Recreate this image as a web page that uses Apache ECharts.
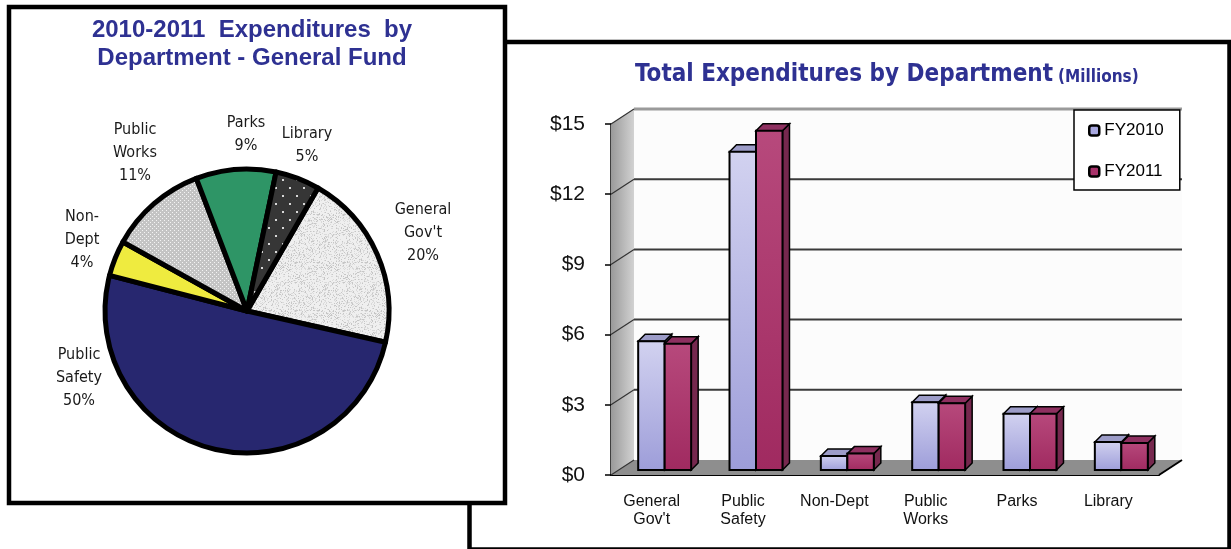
<!DOCTYPE html>
<html>
<head>
<meta charset="utf-8">
<script src="https://cdn.jsdelivr.net/npm/echarts@6/dist/echarts.min.js"></script>
<style>
  html, body { margin: 0; padding: 0; background: #fff; }
  #chart { width: 1231px; height: 549px; }
</style>
</head>
<body>
<div id="chart"></div>
<script>
// General Fund shares by department, 2010-2011 (percent)
const pieNames = ["General\nGov't", "Public\nSafety", "Non-\nDept", "Public\nWorks", "Parks", "Library"];
const pieShares = [20, 50, 4, 11, 9, 5];

// Total expenditures by department, $ millions
const barCategories = ["General\nGov't", "Public\nSafety", "Non-Dept", "Public\nWorks", "Parks", "Library"];
const fy2010 = [5.5, 13.6, 0.6, 2.9, 2.4, 1.2];
const fy2011 = [5.4, 14.5, 0.7, 2.85, 2.4, 1.15];
const yTicks = [0, 3, 6, 9, 12, 15];
const seriesNames = ['FY2010', 'FY2011'];

const NARROW = "'Liberation Sans Narrow', 'Arial Narrow', 'DejaVu Sans Condensed', sans-serif";
const SANS = "'Liberation Sans', Arial, sans-serif";
const TITLE_BLUE = '#2e3192';

// ---- textures for the pie slices ----
function pattern(w, h, bg, paint) {
  const c = document.createElement('canvas');
  c.width = w; c.height = h;
  const g = c.getContext('2d');
  g.fillStyle = bg;
  g.fillRect(0, 0, w, h);
  paint(g);
  return { image: c, repeat: 'repeat' };
}
// fine grey speckle (deterministic hash)
const speckle = pattern(48, 48, '#efefef', g => {
  for (let y = 0; y < 48; y++) {
    for (let x = 0; x < 48; x++) {
      const h = ((x * 2654435761) ^ (y * 40503) ^ (x * y * 97)) >>> 0;
      if (h % 9 === 0) { g.fillStyle = '#c6c6c6'; g.fillRect(x, y, 1, 1); }
      else if (h % 5 === 0) { g.fillStyle = '#dadada'; g.fillRect(x, y, 1, 1); }
    }
  }
});
// light grey with a tight white dot grid
const dotGrey = pattern(4, 4, '#c4c4c4', g => {
  g.fillStyle = '#f4f4f4';
  g.fillRect(0, 0, 1, 1);
  g.fillRect(2, 2, 1, 1);
});
// charcoal with sparse white dots
const dotDark = pattern(14, 16, '#363636', g => {
  g.fillStyle = '#d8d8d8';
  g.fillRect(2, 3, 2, 2);
  g.fillRect(9, 11, 2, 2);
});
const pieFills = [speckle, '#27276f', '#efeb3f', dotGrey, '#2e9566', dotDark];
const pieLabelSpots = [[423, 233], [79, 378], [82, 240], [135, 153], [246, 134], [307, 145]];

// ---- 3-D look for the column chart ----
const WALL_DX = 23, WALL_DY = -15;   // depth of floor / side wall
const BAR_SX = 8, BAR_SY = -5;       // bars stand partway into the floor
const BAR_DX = 7, BAR_DY = -7;       // depth of each column

const barColors = [
  {
    front: { type: 'linear', x: 0, y: 0, x2: 0, y2: 1,
      colorStops: [{ offset: 0, color: '#d2d2f0' }, { offset: 1, color: '#9d9dd9' }] },
    top: '#9c9cc8', side: '#7c7cb0'
  },
  {
    front: { type: 'linear', x: 0, y: 0, x2: 0, y2: 1,
      colorStops: [{ offset: 0, color: '#b7497c' }, { offset: 1, color: '#a02a60' }] },
    top: '#8e3060', side: '#76284e'
  }
];

function frameRenderer(params, api) {
  const n = barCategories.length;
  const band = api.size([1, 0])[0];
  const origin = api.coord([0, 0]);
  const x0 = origin[0] - band / 2;
  const x1 = x0 + band * n;
  const yb = origin[1];
  const yt = api.coord([0, yTicks[yTicks.length - 1]])[1];
  const kids = [];
  // back wall
  kids.push({ type: 'rect', shape: { x: x0 + WALL_DX, y: yt + WALL_DY, width: x1 - x0, height: yb - yt },
    style: { fill: '#fcfcfc' } });
  // side wall
  kids.push({ type: 'polygon',
    shape: { points: [[x0, yb], [x0 + WALL_DX, yb + WALL_DY], [x0 + WALL_DX, yt + WALL_DY], [x0, yt]] },
    style: { fill: { type: 'linear', x: 0, y: 0, x2: 1, y2: 0,
      colorStops: [{ offset: 0, color: '#9a9a9a' }, { offset: 1, color: '#d2d2d2' }] } } });
  // floor
  kids.push({ type: 'polygon',
    shape: { points: [[x0, yb], [x1, yb], [x1 + WALL_DX, yb + WALL_DY], [x0 + WALL_DX, yb + WALL_DY]] },
    style: { fill: '#8e8e8e' } });
  kids.push({ type: 'line', shape: { x1: x1, y1: yb, x2: x1 + WALL_DX, y2: yb + WALL_DY },
    style: { stroke: '#000', lineWidth: 2 } });
  // top edge of the back wall
  kids.push({ type: 'line', shape: { x1: x0 + WALL_DX, y1: yt + WALL_DY, x2: x1 + WALL_DX, y2: yt + WALL_DY },
    style: { stroke: '#9a9a9a', lineWidth: 3 } });
  // gridlines on the back wall and their slants on the side wall
  yTicks.forEach(v => {
    const y = api.coord([0, v])[1];
    kids.push({ type: 'line', shape: { x1: x0, y1: y, x2: x0 + WALL_DX, y2: y + WALL_DY },
      style: { stroke: '#333', lineWidth: 1.2 } });
    if (v > 0 && v < yTicks[yTicks.length - 1]) {
      kids.push({ type: 'line', shape: { x1: x0 + WALL_DX, y1: y + WALL_DY, x2: x1 + WALL_DX, y2: y + WALL_DY },
        style: { stroke: '#3a3a3a', lineWidth: 2 } });
    }
  });
  return { type: 'group', children: kids };
}

function barRenderer(k) {
  const col = barColors[k];
  return function (params, api) {
    const idx = api.value(0);
    const v = api.value(1);
    const base = api.coord([idx, 0]);
    const top = api.coord([idx, v]);
    const w = api.size([1, 0])[0] * 0.29;
    const xl = base[0] - w + k * w + BAR_SX;
    const xr = xl + w;
    const yb = base[1] + BAR_SY;
    const yt = top[1] + BAR_SY;
    return {
      type: 'group',
      children: [
        { type: 'polygon',
          shape: { points: [[xr, yb], [xr + BAR_DX, yb + BAR_DY], [xr + BAR_DX, yt + BAR_DY], [xr, yt]] },
          style: { fill: col.side, stroke: '#000', lineWidth: 1.5 } },
        { type: 'polygon',
          shape: { points: [[xl, yt], [xr, yt], [xr + BAR_DX, yt + BAR_DY], [xl + BAR_DX, yt + BAR_DY]] },
          style: { fill: col.top, stroke: '#000', lineWidth: 1.5 } },
        { type: 'rect', shape: { x: xl, y: yt, width: w, height: yb - yt },
          style: { fill: col.front, stroke: '#000', lineWidth: 2 } }
      ]
    };
  };
}

const chart = echarts.init(document.getElementById('chart'), null, { renderer: 'canvas' });

chart.setOption({
  backgroundColor: '#fff',
  animation: false,
  graphic: [
    { type: 'rect', z: 0, shape: { x: 469.5, y: 42, width: 760, height: 507.5 },
      style: { fill: '#fff', stroke: '#000', lineWidth: 4.5 } },
    { type: 'rect', z: 1, shape: { x: 9, y: 7, width: 496, height: 496 },
      style: { fill: '#fff', stroke: '#000', lineWidth: 4.5 } }
  ],
  title: [
    {
      text: '2010-2011  Expenditures  by\nDepartment - General Fund',
      left: 252, top: 16, textAlign: 'center', padding: 0, z: 10,
      textStyle: { fontFamily: SANS, fontWeight: 'bold', fontSize: 24, lineHeight: 28, color: TITLE_BLUE }
    },
    {
      text: '{a|Total Expenditures by Department} {b|(Millions)}',
      left: 635, top: 63, padding: 0, z: 10,
      textStyle: {
        rich: {
          a: { fontFamily: NARROW, fontWeight: 'bold', fontSize: 24, color: TITLE_BLUE },
          b: { fontFamily: NARROW, fontWeight: 'bold', fontSize: 17, color: TITLE_BLUE, padding: [5, 0, 0, 0] }
        }
      }
    }
  ],
  legend: {
    orient: 'vertical', left: 1074, top: 110,
    padding: [12, 16, 10, 14], itemGap: 24, itemWidth: 10, itemHeight: 10,
    backgroundColor: '#fff', borderColor: '#000', borderWidth: 1.5,
    textStyle: { fontFamily: SANS, fontSize: 17, color: '#000' },
    selectedMode: false,
    data: [
      { name: seriesNames[0], icon: 'roundRect', itemStyle: { color: '#a8a8e0', borderColor: '#000', borderWidth: 2.5 } },
      { name: seriesNames[1], icon: 'roundRect', itemStyle: { color: '#a8326a', borderColor: '#000', borderWidth: 2.5 } }
    ]
  },
  grid: { left: 611, right: 72, top: 124, bottom: 74 },
  xAxis: {
    type: 'category',
    data: barCategories,
    axisLine: { lineStyle: { color: '#000', width: 2 } },
    axisTick: { length: 6, lineStyle: { color: '#000', width: 1.5 } },
    axisLabel: { fontFamily: SANS, fontSize: 16, lineHeight: 18, color: '#111', margin: 18, padding: [0, 10, 0, 0] }
  },
  yAxis: {
    type: 'value', min: yTicks[0], max: yTicks[yTicks.length - 1], interval: 3,
    axisLine: { show: true, lineStyle: { color: '#000', width: 1.5 } },
    axisTick: { show: true, length: 6, lineStyle: { color: '#000', width: 1.5 } },
    splitLine: { show: false },
    axisLabel: { formatter: v => '$' + v, fontFamily: SANS, fontSize: 21, color: '#111', margin: 26 }
  },
  series: [
    {
      type: 'custom', name: 'frame', z: 1, silent: true,
      renderItem: frameRenderer,
      data: [[0, 0]],
      encode: { x: 0, y: 1 }
    },
    {
      type: 'custom', name: seriesNames[0], z: 2, silent: true,
      itemStyle: { color: '#a8a8e0' },
      renderItem: barRenderer(0),
      data: fy2010.map((v, i) => [i, v]),
      encode: { x: 0, y: 1 }
    },
    {
      type: 'custom', name: seriesNames[1], z: 3, silent: true,
      itemStyle: { color: '#a8326a' },
      renderItem: barRenderer(1),
      data: fy2011.map((v, i) => [i, v]),
      encode: { x: 0, y: 1 }
    },
    {
      type: 'pie', name: 'General Fund', z: 5, silent: true,
      center: [247, 311], radius: 142, startAngle: 60, clockwise: true,
      avoidLabelOverlap: false,
      itemStyle: { borderColor: '#000', borderWidth: 5 },
      label: {
        show: true, position: 'outside', formatter: '{b}\n{c}%',
        fontFamily: NARROW, fontSize: 16, lineHeight: 23, color: '#1a1a1a', align: 'center'
      },
      labelLine: { show: false },
      labelLayout: p => ({
        x: pieLabelSpots[p.dataIndex][0], y: pieLabelSpots[p.dataIndex][1],
        align: 'center', verticalAlign: 'middle'
      }),
      emphasis: { disabled: true },
      data: pieShares.map((v, i) => ({ name: pieNames[i], value: v, itemStyle: { color: pieFills[i] } }))
    }
  ]
});
</script>
</body>
</html>
